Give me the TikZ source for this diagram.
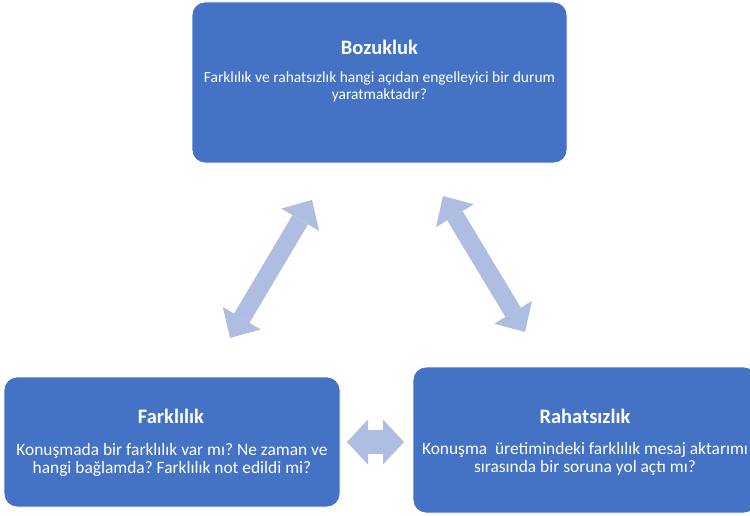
\documentclass[tikz,border=0pt]{standalone}
\usepackage{fontspec}
\setmainfont{Carlito}
\usepackage{tikz}
\usetikzlibrary{arrows.meta}
\frenchspacing

\definecolor{boxblue}{RGB}{68,114,196}
\definecolor{arrowblue}{RGB}{174,189,225}

\tikzset{
	box/.style={fill=boxblue, draw=white, line width=0.8pt, rounded corners=13pt, inner sep=0pt},
	boxtitle/.style={text=white, font=\fontsize{20.5}{24}\selectfont\bfseries, anchor=base, inner sep=0pt},
	boxbody/.style={text=white, font=\fontsize{15.5}{17.5}\selectfont, align=center, anchor=base, inner sep=0pt},
	lowbody/.style={boxbody, font=\fontsize{17.4}{17.5}\selectfont},
	longhead/.tip={Triangle[line width=0pt,length=23pt,width=44pt]},
	shorthead/.tip={Triangle[line width=0pt,length=21pt,width=45pt]},
	dblarrow/.style={color=arrowblue, line width=18pt, longhead-longhead},
	sidearrow/.style={color=arrowblue, line width=24pt, shorthead-shorthead}
}

\begin{document}
\begin{tikzpicture}[x=1pt,y=-1pt]
		\clip (0,0) rectangle (750,516);
		%
		\node[box, minimum width=375pt, minimum height=161pt] (Boz) at (379.5,82.5) {};
		\node[box, minimum width=336pt, minimum height=130pt] (Far) at (172,442) {};
		\node[box, minimum width=344pt, minimum height=146pt] (Rah) at (585,440) {};
		%
		\node[boxtitle] (BozT) at (379.5,55) {Bozukluk};
		\node[boxbody] (BozB) at (379.5,100) {Farklılık ve rahatsızlık hangi açıdan engelleyici bir durum\\ yaratmaktadır?};
		\node[boxtitle] (FarT) at (171,423) {Farklılık};
		\node[lowbody] (FarB) at (172,473) {Konuşmada bir farklılık var mı? Ne zaman ve\\ hangi bağlamda? Farklılık not edildi mi?};
		\node[boxtitle] (RahT) at (585,423) {Rahatsızlık};
		\node[lowbody] (RahB) at (585,472) {Konuşma\ \ üretimindeki farklılık mesaj aktarımı\\ sırasında bir soruna yol açtı mı?};
		%
		\coordinate (FarU) at (230,338);
		\coordinate (BozL) at (312,200);
		\coordinate (BozR) at (443,196);
		\coordinate (RahU) at (525,332);
		\coordinate (FarR) at (347,442);
		\coordinate (RahL) at (404,442);
		%
		\draw[dblarrow] (FarU) -- (BozL);
		\draw[dblarrow] (BozR) -- (RahU);
		\draw[sidearrow] (FarR) -- (RahL);
\end{tikzpicture}
\end{document}
